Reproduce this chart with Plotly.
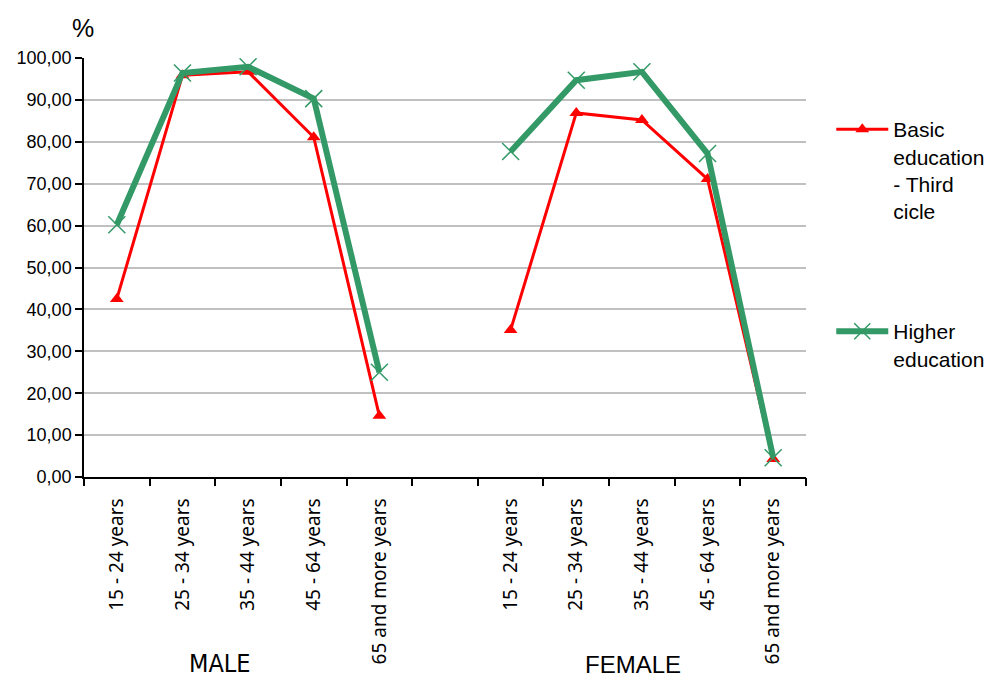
import plotly.graph_objects as go

age_groups = ["15 - 24 years", "25 - 34 years", "35 - 44 years", "45 - 64 years", "65 and more years"]
sex_groups = ["MALE", "FEMALE"]
basic_male = [42.5, 95.9, 96.7, 81.1, 14.6]
basic_female = [35.1, 86.9, 85.2, 71.1, 4.3]
higher_male = [60.2, 96.4, 97.9, 90.3, 25.0]
higher_female = [77.7, 94.7, 96.7, 77.2, 4.6]
y_ticks = [0, 10, 20, 30, 40, 50, 60, 70, 80, 90, 100]

# positions: male slots 0-4, empty slot 5, female slots 6-10
n = len(age_groups)
x_pos = list(range(n)) + [n] + list(range(n + 1, 2 * n + 1))
tick_text = age_groups + [""] + age_groups
basic = basic_male + [None] + basic_female
higher = higher_male + [None] + higher_female

fig = go.Figure()
fig.add_trace(go.Scatter(
    x=x_pos, y=basic, name="Basic<br>education<br>- Third<br>cicle",
    mode="lines+markers", connectgaps=False,
    line=dict(color="#FF0000", width=3),
    marker=dict(symbol="triangle-up", size=12, color="#FF0000"),
    legend="legend"))
fig.add_trace(go.Scatter(
    x=x_pos, y=higher, name="Higher<br>education",
    mode="lines+markers", connectgaps=False,
    line=dict(color="#339966", width=6),
    marker=dict(symbol="x-thin", size=17, line=dict(color="#339966", width=1.5)),
    legend="legend2"))

# invisible trace on the boundary axis to draw ticks between categories
fig.add_trace(go.Scatter(x=[-0.5, 2 * n + 0.5], y=[None, None], xaxis="x2",
                         showlegend=False, hoverinfo="skip"))

narrow = "Liberation Sans Narrow, Arial Narrow, DejaVu Sans Condensed, Roboto Condensed, Liberation Sans, sans-serif"

# the page body adds an 8px margin, so the figure is sized to fit the window
fig.update_layout(
    width=985, height=671,
    margin=dict(l=76, r=187, t=50, b=202, autoexpand=False),
    plot_bgcolor="white", paper_bgcolor="white",
    separators=",.",
    font=dict(family="Liberation Sans, Arial", color="black"),
    xaxis=dict(range=[-0.5, 2 * n + 0.5], tickvals=x_pos, ticktext=tick_text,
               tickangle=-90, ticks="", showgrid=False, zeroline=False,
               showline=True, linecolor="black", linewidth=1.5,
               tickfont=dict(family="Noto Sans", size=19, color="black"),
               ticklabelstandoff=12, automargin=False),
    xaxis2=dict(range=[-0.5, 2 * n + 0.5], overlaying="x", anchor="y",
                side="bottom", tickvals=[i - 0.5 for i in range(2 * n + 2)],
                showticklabels=False, ticks="outside", ticklen=8,
                tickcolor="black", tickwidth=1.5, showgrid=False,
                zeroline=False, showline=False, automargin=False),
    yaxis=dict(range=[0, 100], tickvals=y_ticks, tickformat=".2f",
               showgrid=True, gridcolor="#C0C0C0", gridwidth=1.5,
               zeroline=False, showline=True, linecolor="black", linewidth=1.5,
               ticks="outside", ticklen=7, tickcolor="black", tickwidth=1.5,
               tickfont=dict(size=18, color="black"), automargin=False),
    legend=dict(x=1.035, y=0.878, xanchor="left", yanchor="top", valign="top",
                font=dict(size=21, color="black"), itemwidth=52,
                bgcolor="rgba(0,0,0,0)"),
    legend2=dict(x=1.035, y=0.396, xanchor="left", yanchor="top", valign="top",
                 font=dict(size=21, color="black"), itemwidth=52,
                 bgcolor="rgba(0,0,0,0)"),
    annotations=[
        dict(text="%", xref="paper", yref="paper", x=0, y=1, xshift=-14, yshift=14,
             xanchor="left", yanchor="bottom", showarrow=False,
             font=dict(size=25, color="black")),
        dict(text=sex_groups[0], xref="x", yref="paper", x=1.57, y=0,
             yshift=-203, yanchor="bottom", showarrow=False,
             font=dict(family=narrow, size=25, color="black")),
        dict(text=sex_groups[1], xref="x", yref="paper", x=7.86, y=0,
             yshift=-203, yanchor="bottom", showarrow=False,
             font=dict(family="Liberation Sans", size=24, color="black")),
    ],
)

fig.write_html("out.html")
